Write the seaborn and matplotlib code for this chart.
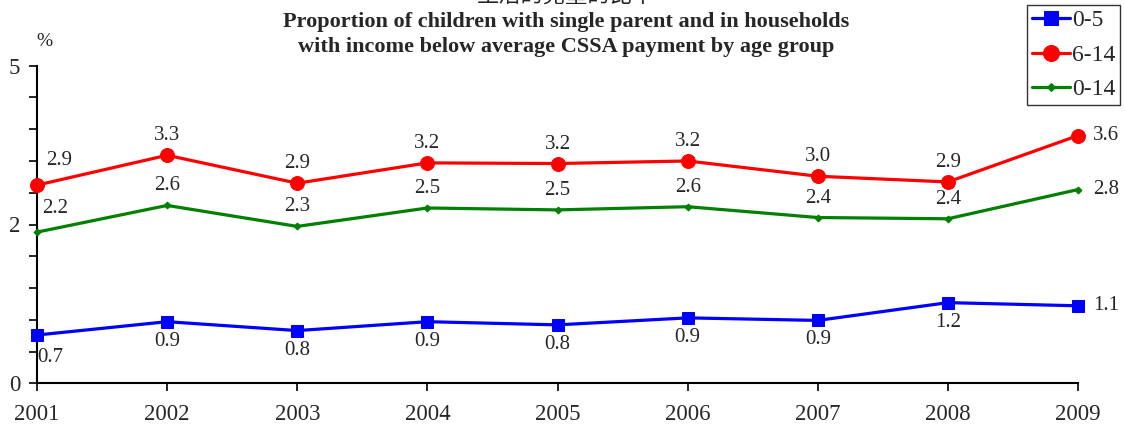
import matplotlib
matplotlib.use("Agg")
import matplotlib.pyplot as plt
import seaborn as sns
import pandas as pd

years = [2001, 2002, 2003, 2004, 2005, 2006, 2007, 2008, 2009]
vals_0_5 = [0.76, 0.97, 0.83, 0.97, 0.92, 1.03, 0.99, 1.27, 1.22]
vals_6_14 = [3.12, 3.59, 3.15, 3.47, 3.46, 3.50, 3.26, 3.17, 3.90]
vals_0_14 = [2.38, 2.80, 2.47, 2.76, 2.73, 2.78, 2.61, 2.59, 3.05]
labels_0_5 = ["0.7", "0.9", "0.8", "0.9", "0.8", "0.9", "0.9", "1.2", "1.1"]
labels_6_14 = ["2.9", "3.3", "2.9", "3.2", "3.2", "3.2", "3.0", "2.9", "3.6"]
labels_0_14 = ["2.2", "2.6", "2.3", "2.5", "2.5", "2.6", "2.4", "2.4", "2.8"]
series_names = ["0-5", "6-14", "0-14"]
ytick_values = [0, 0.5, 1, 1.5, 2, 2.5, 3, 3.5, 4, 4.5, 5]
ytick_labels = ["0", "", "", "", "", "2", "", "", "", "", "5"]
title_en = ("Proportion of children with single parent and in households\n"
            "with income below average CSSA payment by age group")
title_zh = "生活的兒童的比率"

sns.set_style("ticks")
plt.rcParams['font.family'] = ['Liberation Serif', 'DejaVu Serif']

fig = plt.figure(figsize=(11.25, 4.3), dpi=100)
ax = fig.add_axes([37/1125, 1 - 383.3/430, (1078-37)/1125, (383.3-65.7)/430])

df = pd.DataFrame({
    "year": years * 3,
    "value": vals_0_5 + vals_6_14 + vals_0_14,
    "series": [series_names[0]] * 9 + [series_names[1]] * 9 + [series_names[2]] * 9,
})

styles = {
    "0-5": dict(color="#0000ff", marker="s", markersize=9),
    "6-14": dict(color="#ff0000", marker="o", markersize=10),
    "0-14": dict(color="#008000", marker="D", markersize=3.5),
}
for name in series_names:
    sub = df[df["series"] == name]
    st = styles[name]
    sns.lineplot(data=sub, x="year", y="value", ax=ax, color=st["color"],
                 marker=st["marker"], markersize=st["markersize"],
                 markeredgecolor=st["color"], linewidth=2.3, label=name,
                 clip_on=False, zorder=3)

ax.set_xlim(2001, 2009)
ax.set_ylim(0, 5)
ax.set_xticks(years)
ax.set_xticklabels([str(y) for y in years], fontsize=16.5)
ax.set_yticks(ytick_values)
ax.set_yticklabels(ytick_labels, fontsize=16.5)
ax.tick_params(axis="both", direction="out", length=6, width=1.2, color="black")
ax.tick_params(axis="x", pad=9)
ax.tick_params(axis="y", pad=6)
ax.set_xlabel("")
ax.set_ylabel("")
for s in ["top", "right"]:
    ax.spines[s].set_visible(False)
for s in ["left", "bottom"]:
    ax.spines[s].set_color("black")
    ax.spines[s].set_linewidth(1.5)

fs = 15
for i, (x, v, lab) in enumerate(zip(years, vals_0_5, labels_0_5)):
    if i == 0:
        ax.annotate(lab, (x, v), xytext=(9.5, -16), textcoords="offset points", ha="center", va="center", fontsize=fs)
    elif i == len(years) - 1:
        ax.annotate(lab, (x, v), xytext=(20, 0), textcoords="offset points", ha="center", va="center", fontsize=fs)
    else:
        ax.annotate(lab, (x, v), xytext=(0, -14), textcoords="offset points", ha="center", va="center", fontsize=fs)
for i, (x, v, lab) in enumerate(zip(years, vals_6_14, labels_6_14)):
    if i == 0:
        ax.annotate(lab, (x, v), xytext=(16, 18), textcoords="offset points", ha="center", va="center", fontsize=fs)
    elif i == len(years) - 1:
        ax.annotate(lab, (x, v), xytext=(20, 0), textcoords="offset points", ha="center", va="center", fontsize=fs)
    else:
        ax.annotate(lab, (x, v), xytext=(0, 14), textcoords="offset points", ha="center", va="center", fontsize=fs)
for i, (x, v, lab) in enumerate(zip(years, vals_0_14, labels_0_14)):
    if i == 0:
        ax.annotate(lab, (x, v), xytext=(13, 17), textcoords="offset points", ha="center", va="center", fontsize=fs)
    elif i == len(years) - 1:
        ax.annotate(lab, (x, v), xytext=(20, 0), textcoords="offset points", ha="center", va="center", fontsize=fs)
    else:
        ax.annotate(lab, (x, v), xytext=(0, 14), textcoords="offset points", ha="center", va="center", fontsize=fs)

leg = ax.legend(loc="upper left", bbox_to_anchor=(1027/1125, 1 - 5/430), bbox_transform=fig.transFigure,
                frameon=True, fancybox=False, fontsize=17, handlelength=1.6, handletextpad=0.12,
                borderpad=0.2, labelspacing=0.55, borderaxespad=0, markerscale=1.15)
leg.get_frame().set_edgecolor("black")
leg.get_frame().set_linewidth(1.0)

fig.text(44/1125, 1 - 42/430, "%", fontsize=14, ha="center", va="center")
fig.text(566/1125, 1 - 34.5/430, title_en, fontsize=16, fontweight="bold", ha="center", va="center",
         linespacing=1.3)
fig.text(566/1125, 1 - (-4)/430, title_zh, fontsize=16, ha="center", va="center",
         family=["Noto Sans CJK TC", "DejaVu Sans"])

fig.savefig("out.png", dpi=100)
